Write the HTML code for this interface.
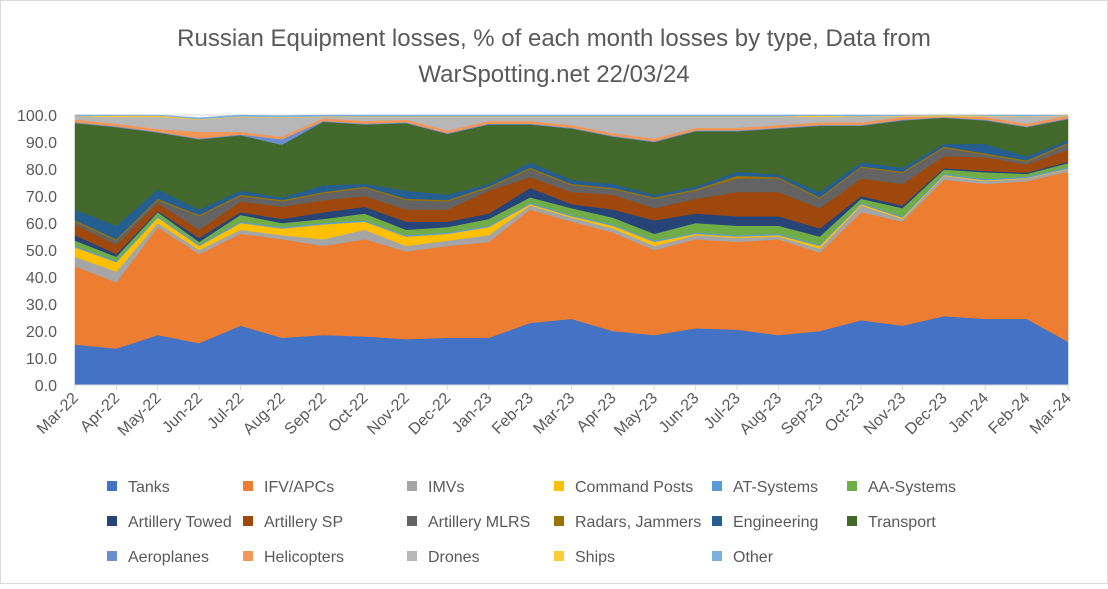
<!DOCTYPE html>
<html><head><meta charset="utf-8"><style>
body{margin:0;background:#fff;font-family:"Liberation Sans",sans-serif}
svg text{font-family:"Liberation Sans",sans-serif}
</style></head><body>
<svg id="chart" width="1108" height="584" viewBox="0 0 1108 584" xmlns="http://www.w3.org/2000/svg">
<rect x="0.5" y="0.5" width="1107" height="583" fill="#fff" stroke="#d9d9d9"/>
<text x="554" y="46" text-anchor="middle" font-size="24" fill="#595959">Russian Equipment losses, % of each month losses by type, Data from</text>
<text x="554" y="82" text-anchor="middle" font-size="24" fill="#595959">WarSpotting.net 22/03/24</text>
<g id="grid"></g><g id="areas"></g><g id="axes"></g><g id="legend"></g>
</svg>
<script>
const months=["Mar-22","Apr-22","May-22","Jun-22","Jul-22","Aug-22","Sep-22","Oct-22","Nov-22","Dec-22","Jan-23","Feb-23","Mar-23","Apr-23","May-23","Jun-23","Jul-23","Aug-23","Sep-23","Oct-23","Nov-23","Dec-23","Jan-24","Feb-24","Mar-24"];
const seriesNames=["Tanks","IFV/APCs","IMVs","Command Posts","AT-Systems","AA-Systems","Artillery Towed","Artillery SP","Artillery MLRS","Radars, Jammers","Engineering","Transport","Aeroplanes","Helicopters","Drones","Ships","Other"];
const tanks=[15,13.5,18.5,15.5,22,17.5,18.5,18,17,17.5,17.5,23,24.5,20,18.5,21,20.5,18.5,20,24,22,25.5,24.5,24.5,16];
const ifv=[29,24.5,40,33,34,36.5,33,36,32.5,34,35.5,42,36,36.5,31.5,33,32.5,35.5,29,40,38.5,50.5,50,51,63];
const imvs=[3.5,4,1.5,1.5,1.5,1.5,2.5,3.5,2,2,2.5,1.5,1.5,1.5,1.5,1.5,1.5,1,1.5,2.5,1,1.5,1,1,1];
const commandPosts=[3.5,3.5,2,1.5,2.5,2.5,5.5,3,3.5,2.5,3,0.5,0.5,1,1.5,0.5,0.5,0.5,1,0.5,0.5,0.3,0.3,0.2,0.2];
const atSystems=[0.5,0.5,0.5,0.5,0.5,0.5,0.5,0.5,0.5,0.5,0.5,0.5,0.5,0.5,0.5,0.5,0.5,0.5,0.5,0.5,0.5,0.5,0.5,0.5,0.5];
const aaSystems=[2,1.5,1.5,1,2.5,1.5,1.5,2.5,2,2,2.5,2,2.5,2.5,2.5,3.5,3.5,3,3,1.5,3,1.5,2.5,1,1.5];
const artTowed=[2,1,0.5,1.5,1,1.5,2.5,2.5,3,2,2,3.5,1.5,3,5,3.5,3.5,3.5,3,1,1,0.5,0.5,0.5,0.5];
const artSP=[4,3.5,3,3,4,4.5,4.5,4,4.5,4.5,8.5,4,4.5,5.5,4.5,5.5,9,9,7.5,6.5,8,4.5,5,3,4.5];
const mlrs=[1,1.5,1,5,2,2,2.5,3,3.5,3,1,3,2.5,2,3.5,3,5,5,3.5,4,4,3,1,1,2];
const radars=[0.5,0.5,0.5,0.5,0.5,0.5,0.5,0.5,0.5,0.5,0.5,0.5,0.5,0.5,0.5,0.5,1,0.5,0.5,0.5,0.5,0.5,0.5,0.5,0.5];
const engineering=[4,5,3.5,2,1.5,1,2.5,1,3,2,1,2,1.5,1.5,1,1,1.5,1,2,1.5,1.5,1,3.5,1.5,1];
const transport=[32,36.5,21,26,20.5,19.5,23.5,22,25,22.5,22,14,19,17.5,19.5,20.5,15,17,24.5,13.5,17.5,9.7,8.7,10.8,7.8];
const aeroplanes=[0.3,0.3,0.3,0.3,0.3,2,0.3,0.3,0.3,0.3,0.3,0.3,0.3,0.3,0.3,0.3,0.3,0.3,0.3,0.3,0.3,0.2,0.3,0.3,0.3];
const helicopters=[1,1,1,2.5,1,1,1,1,1,1,1,1,1,1,1,1,1,1,1,1,1,0.3,1,1,1];
const drones=[1,2.5,4.5,4.5,5.5,7,0.5,1.5,1,5,1.5,1.5,3,6,8,4,4,3,2,2,0.3,0,0.3,2.5,0];
const ships=[0.2,0.5,0.5,0.2,0.2,0.2,0.2,0.2,0.2,0.2,0.2,0.2,0.2,0.2,0.2,0.2,0.2,0.2,0.5,0.2,0.2,0.5,0.2,0.2,0.5];
const other=[0.5,0.5,0.5,0.5,0.5,0.5,0.5,0.5,0.5,0.5,0.5,0.5,0.5,0.5,0.5,0.5,0.5,0.5,0.5,0.5,0.5,0.3,0.5,0.5,0.5];
const yTicks=["0.0","10.0","20.0","30.0","40.0","50.0","60.0","70.0","80.0","90.0","100.0"];
const series=[tanks,ifv,imvs,commandPosts,atSystems,aaSystems,artTowed,artSP,mlrs,radars,engineering,transport,aeroplanes,helicopters,drones,ships,other];
const colors=["#4472C4","#ED7D31","#A5A5A5","#FFC000","#5B9BD5","#70AD47","#264478","#9E480E","#636363","#997300","#255E91","#43682B","#698ED0","#F1975A","#B7B7B7","#FFCD33","#7CAFDD"];
const NS="http://www.w3.org/2000/svg";
const x0=75,x1=1068,yTop=115,yBot=385;
const xs=i=>x0+(x1-x0)*i/(months.length-1);
const ys=v=>yBot-(yBot-yTop)*Math.min(v,100)/100;
function mk(tag,attrs,parent){const e=document.createElementNS(NS,tag);for(const k in attrs)e.setAttribute(k,attrs[k]);parent.appendChild(e);return e;}
const grid=document.getElementById('grid'),areas=document.getElementById('areas'),axes=document.getElementById('axes'),legend=document.getElementById('legend');
yTicks.forEach((t,i)=>{const v=parseFloat(t);const y=ys(v);
 const l=mk('line',{x1:x0,x2:x1,y1:y,y2:y,stroke:'#d9d9d9','stroke-width':1},grid);
 
 
 const tx=mk('text',{x:57,y:y+6,'text-anchor':'end','font-size':16,fill:'#595959'},axes);tx.textContent=t;
 
 
});
let cum=months.map(()=>0);
series.forEach((s,k)=>{
 const lower=cum.slice();cum=cum.map((c,i)=>c+s[i]);
 let d='M'+months.map((m,i)=>xs(i)+','+ys(cum[i])).join('L');
 for(let i=months.length-1;i>=0;i--)d+='L'+xs(i)+','+ys(lower[i]);
 const p=mk('path',{d:d+'Z',fill:colors[k],stroke:colors[k],'stroke-width':0.5},areas);
 
 
});
const ax=mk('line',{x1:x0,x2:x1,y1:yBot,y2:yBot,stroke:'#d9d9d9','stroke-width':1},axes);


months.forEach((m,i)=>{const x=xs(i);
 const tk=mk('line',{x1:x,x2:x,y1:yBot,y2:yBot+5,stroke:'#d9d9d9'},axes);
 
 
 const t=mk('text',{x:x+4,y:yBot+14,'text-anchor':'end','font-size':16,fill:'#595959',transform:`rotate(-45 ${x+4} ${yBot+14})`},axes);t.textContent=m;
 
 
});
const colX=[107,243,407,554,712,847],rowY=[486,521,556];
seriesNames.forEach((n,k)=>{const cx=colX[k%6],cy=rowY[Math.floor(k/6)];
 const g=mk('g',{},legend);
 
 
 mk('rect',{x:cx,y:cy-5,width:10,height:10,fill:colors[k]},g);
 const t=mk('text',{x:cx+21,y:cy+6,'font-size':16,fill:'#595959'},g);t.textContent=n;
});
</script>
</body></html>
